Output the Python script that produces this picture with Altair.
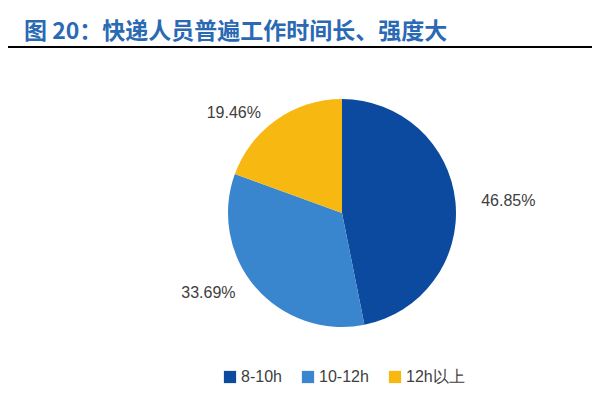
import altair as alt
import pandas as pd

title_text = "图 20：快递人员普遍工作时间长、强度大"
categories = ["8-10h", "10-12h", "12h以上"]
values = [46.85, 33.69, 19.46]
colors = ["#0B4A9E", "#3985CE", "#F8B812"]

df = pd.DataFrame({
    "cat": categories,
    "value": values,
    "k": list(range(len(categories))),
    "label": [f"{v:.2f}%" for v in values],
})
tdf = pd.DataFrame({"t": [title_text]})

CX, CY = 334, 205

rule = alt.Chart(tdf).mark_rule(color="#000000", strokeWidth=2).encode(
    x=alt.value(0), x2=alt.value(584), y=alt.value(39)
)

title = alt.Chart(tdf).mark_text(
    align="left", baseline="alphabetic", fontSize=23, fontWeight="bold",
    font="Noto Sans CJK SC", color="#2A69B3"
).encode(x=alt.value(16), y=alt.value(31), text="t:N")

arc = alt.Chart(df).mark_arc(outerRadius=114).encode(
    theta=alt.Theta("value:Q", stack=True),
    order=alt.Order("k:Q"),
    color=alt.Color(
        "cat:N",
        scale=alt.Scale(domain=categories, range=colors),
        sort=categories,
        legend=alt.Legend(
            orient="none", legendX=214, legendY=361, direction="horizontal",
            title=None, symbolType="square", symbolSize=150, symbolStrokeWidth=0,
            labelFontSize=16, labelColor="#404040", labelFont="Liberation Sans",
            columnPadding=18, labelOffset=3,
        ),
    ),
    x=alt.value(CX),
    y=alt.value(CY),
)

text = alt.Chart(df).transform_joinaggregate(
    total="sum(value)"
).transform_window(
    cum="sum(value)", sort=[alt.SortField("k")], frame=[None, 0]
).transform_calculate(
    mid="(datum.cum - datum.value/2) / datum.total * 2 * PI"
).transform_calculate(
    lx=f"{CX} + 138*sin(datum.mid) + (sin(datum.mid) > 0 ? 29 : -29)",
    ly=f"{CY} - 122*cos(datum.mid)",
).mark_text(
    align="center", baseline="middle", fontSize=16, font="Liberation Sans",
    color="#404040"
).encode(
    x=alt.X("lx:Q", scale=None),
    y=alt.Y("ly:Q", scale=None),
    text="label:N",
)

chart = alt.layer(rule, title, arc, text).properties(
    width=584, height=384, padding=0,
    autosize=alt.AutoSizeParams(type="none"),
).configure_view(stroke=None)

chart.save("out.html", embed_options={"renderer": "svg", "actions": False})
